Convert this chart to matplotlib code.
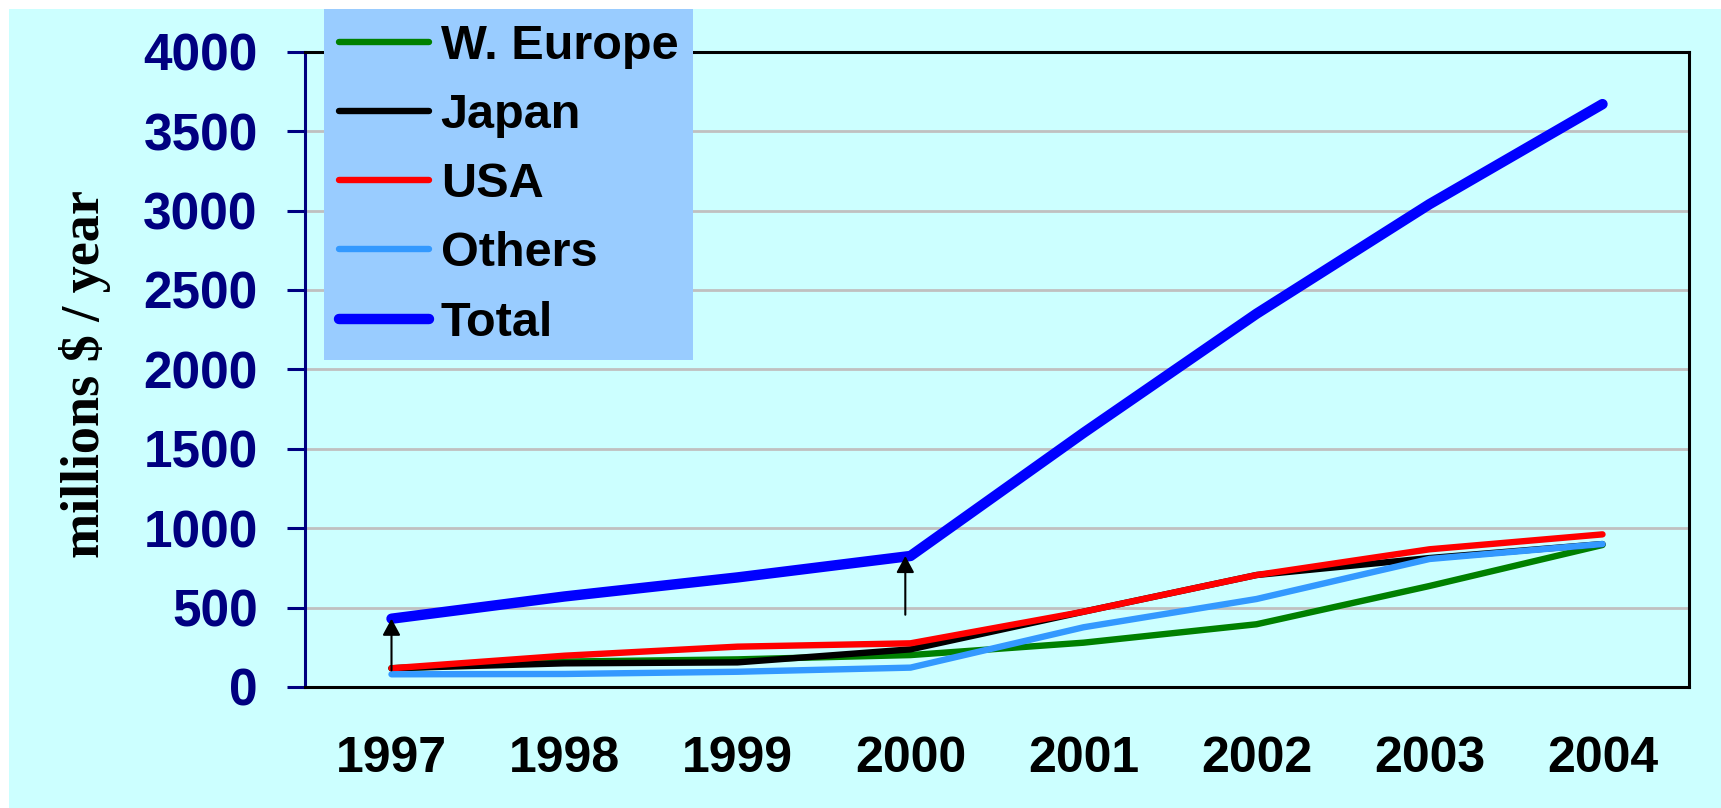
import matplotlib
matplotlib.use("Agg")
import matplotlib.pyplot as plt
from matplotlib.patches import Rectangle

# chart values
YEARS = ["1997", "1998", "1999", "2000", "2001", "2002", "2003", "2004"]
W_EUROPE = [118, 160, 174, 201, 279, 395, 636, 894]
JAPAN = [118, 149, 155, 237, 474, 705, 812, 900]
USA = [118, 197, 254, 275, 474, 705, 867, 961]
OTHERS = [80, 82, 96, 122, 376, 554, 806, 900]
TOTAL = [430, 570, 690, 825, 1600, 2350, 3040, 3670]
Y_TICKS = [0, 500, 1000, 1500, 2000, 2500, 3000, 3500, 4000]

# arrows: category position, tail value, head value
ARROW_X = [0.0, 2.97]
ARROW_FROM = [105, 455]
ARROW_TO = [TOTAL[0], TOTAL[3]]

BG = "#CCFFFF"
NAVY = "#000080"
SANS = ["Liberation Sans", "DejaVu Sans"]
SERIF = ["Liberation Serif", "DejaVu Serif"]

W, H = 1721, 808
fig = plt.figure(figsize=(W / 100, H / 100), dpi=100, facecolor="white")
bg = Rectangle((9 / W, 0), 1 - 9 / W, 1 - 9 / H, transform=fig.transFigure,
               facecolor=BG, edgecolor="none", zorder=-10)
fig.add_artist(bg)

ax = fig.add_axes([305 / W, 1 - 687 / H, (1689 - 305) / W, (687 - 51.7) / H])
ax.set_facecolor(BG)

x = list(range(len(YEARS)))
series = [
    ("W. Europe", W_EUROPE, "#008000", 4.6),
    ("Japan", JAPAN, "#000000", 4.6),
    ("USA", USA, "#FF0000", 4.6),
    ("Others", OTHERS, "#3399FF", 4.6),
    ("Total", TOTAL, "#0000FF", 7.5),
]
for name, vals, col, lw in series:
    ax.plot(x, vals, color=col, lw=lw, label=name, solid_capstyle="round",
            solid_joinstyle="round", clip_on=False)

for ax_x, y0, y1 in zip(ARROW_X, ARROW_FROM, ARROW_TO):
    ax.annotate("", xy=(ax_x, y1), xytext=(ax_x, y0),
                arrowprops=dict(arrowstyle="-|>,head_length=0.5,head_width=0.27",
                                color="black", lw=1.5, shrinkA=0, shrinkB=0,
                                mutation_scale=20))

ax.set_xlim(-0.5, len(YEARS) - 0.5)
ax.set_ylim(0, 4000)
ax.set_yticks(Y_TICKS)
ax.set_xticks(x)
ax.set_xticklabels(YEARS)

ax.yaxis.grid(True, color="#C0C0C0", lw=2)
ax.set_axisbelow(True)

for side in ["top", "right", "bottom"]:
    ax.spines[side].set_color("black")
    ax.spines[side].set_linewidth(2.2)
ax.spines["left"].set_color(NAVY)
ax.spines["left"].set_linewidth(2.2)

ax.tick_params(axis="y", length=13, width=2.2, color=NAVY, pad=21,
               labelsize=37, labelcolor=NAVY)
ax.tick_params(axis="x", length=0, pad=35, labelsize=36, labelcolor="black")
for lab in ax.get_yticklabels() + ax.get_xticklabels():
    lab.set_family(SANS)
    lab.set_fontweight("bold")

fig.text(85 / W, 1 - 374 / H, "millions $ / year", rotation=90, ha="center", va="center",
         fontsize=39, fontweight="bold", family=SERIF)

leg = ax.legend(loc="upper left", bbox_to_anchor=(324 / W, 1 - 9 / H),
                bbox_transform=fig.transFigure, borderaxespad=0, frameon=True,
                fancybox=False, framealpha=1, facecolor="#99CCFF", edgecolor="none",
                prop=dict(family=SANS, weight="bold", size=35),
                handlelength=1.85, handletextpad=0.25, labelspacing=0.5, borderpad=0.3)
leg.set_zorder(10)

fig.savefig("out.png", dpi=100, facecolor=fig.get_facecolor())
